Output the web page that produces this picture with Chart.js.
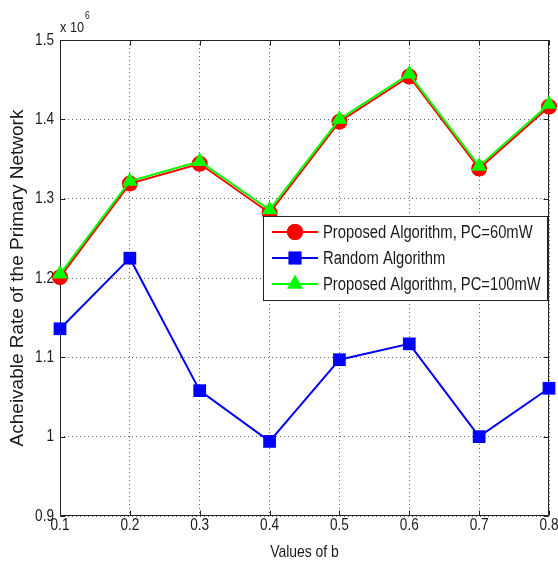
<!DOCTYPE html>
<html>
<head>
<meta charset="utf-8">
<script src="https://cdn.jsdelivr.net/npm/chart.js@4/dist/chart.umd.min.js"></script>
<style>
html,body{margin:0;padding:0;background:#fff;}
canvas{display:block;}
</style>
</head>
<body>
<canvas id="c" width="558" height="565"></canvas>
<script>
// ---- data ----
const bValues = [0.1, 0.2, 0.3, 0.4, 0.5, 0.6, 0.7, 0.8];
const proposed60 = [1.201, 1.319, 1.344, 1.282, 1.397, 1.454, 1.338, 1.416];
const randomAlg = [1.136, 1.225, 1.058, 0.994, 1.097, 1.117, 1.000, 1.061];
const proposed100 = [1.205, 1.322, 1.347, 1.286, 1.400, 1.457, 1.341, 1.419];
const xTickLabels = [0.1, 0.2, 0.3, 0.4, 0.5, 0.6, 0.7, 0.8];
const yTickLabels = [0.9, 1, 1.1, 1.2, 1.3, 1.4, 1.5];
const seriesLabels = ['Proposed Algorithm, PC=60mW', 'Random Algorithm', 'Proposed Algorithm, PC=100mW'];
const xTitle = 'Values of b';
const yTitle = 'Acheivable Rate of the Primary Network';
const exponentText = ['x 10', '6'];

const FONT = "'Liberation Sans', Arial, Helvetica, sans-serif";
const TXT = '#1a1a1a';

const pts = arr => bValues.map((x, i) => ({x, y: arr[i]}));

const datasets = [
  {label: seriesLabels[0], data: pts(proposed60), borderColor: '#ff0000', backgroundColor: '#ff0000',
   pointStyle: 'circle', pointRadius: 8, order: 2},
  {label: seriesLabels[1], data: pts(randomAlg), borderColor: '#0000ff', backgroundColor: '#0000ff',
   pointStyle: 'rect', pointRadius: 9, order: 1},
  {label: seriesLabels[2], data: pts(proposed100), borderColor: '#00ff00', backgroundColor: '#00ff00',
   pointStyle: 'triangle', pointRadius: 9, order: 0}
].map(d => Object.assign({borderWidth: 2, pointBorderWidth: 0, pointHoverRadius: d.pointRadius, clip: false, tension: 0}, d));

// draw horizontally condensed text (reference uses a narrow face)
function ctext(ctx, text, x, y, size, align, baseline, sx) {
  ctx.save();
  ctx.translate(x, y);
  ctx.scale(sx, 1);
  ctx.font = size + 'px ' + FONT;
  ctx.textAlign = align;
  ctx.textBaseline = baseline;
  ctx.fillText(text, 0, 0);
  ctx.restore();
}

const frame = {
  id: 'frame',
  beforeDatasetsDraw(chart) {
    const {ctx, chartArea: a, scales} = chart;
    ctx.save();
    ctx.strokeStyle = '#222';
    ctx.lineWidth = 1;
    ctx.setLineDash([]);
    ctx.beginPath();
    const L = Math.round(a.left) + 0.5, R = Math.round(a.right) - 0.5;
    const T = Math.round(a.top) + 0.5, B = Math.round(a.bottom) - 0.5;
    ctx.rect(L, T, R - L, B - T);
    const tl = 5;
    scales.x.ticks.forEach(t => {
      const px = Math.round(scales.x.getPixelForValue(t.value)) + 0.5;
      ctx.moveTo(px, B); ctx.lineTo(px, B - tl);
      ctx.moveTo(px, T); ctx.lineTo(px, T + tl);
    });
    scales.y.ticks.forEach(t => {
      const py = Math.round(scales.y.getPixelForValue(t.value)) + 0.5;
      ctx.moveTo(L, py); ctx.lineTo(L + tl, py);
      ctx.moveTo(R, py); ctx.lineTo(R - tl, py);
    });
    ctx.stroke();
    ctx.fillStyle = TXT;
    // tick labels
    scales.x.ticks.forEach(t => {
      ctext(ctx, String(t.value), scales.x.getPixelForValue(t.value), 525, 17, 'center', 'middle', 0.8);
    });
    scales.y.ticks.forEach(t => {
      ctext(ctx, String(t.value), 54, scales.y.getPixelForValue(t.value), 17, 'right', 'middle', 0.8);
    });
    // x title
    ctext(ctx, xTitle, (a.left + a.right) / 2, 552, 17, 'center', 'middle', 0.82);
    // exponent label
    ctext(ctx, exponentText[0], a.left, 32, 15, 'left', 'alphabetic', 0.85);
    ctx.font = '15px ' + FONT;
    const w = ctx.measureText(exponentText[0]).width * 0.85;
    ctext(ctx, exponentText[1], a.left + w + 1, 19, 10, 'left', 'alphabetic', 0.85);
    ctx.restore();
  },
  afterDraw(chart) {
    const {ctx} = chart;
    const box = {x: 263, y: 216, w: 285, h: 85};
    ctx.save();
    ctx.fillStyle = '#fff';
    ctx.fillRect(box.x, box.y, box.w, box.h);
    ctx.strokeStyle = '#222';
    ctx.lineWidth = 1;
    ctx.strokeRect(box.x + 0.5, box.y + 0.5, box.w - 1, box.h - 1);
    chart.data.datasets.forEach((d, i) => {
      const y = 232 + i * 26;
      ctx.strokeStyle = d.borderColor;
      ctx.lineWidth = 2;
      ctx.beginPath();
      ctx.moveTo(272, y); ctx.lineTo(318, y);
      ctx.stroke();
      ctx.fillStyle = d.backgroundColor;
      Chart.helpers.drawPoint(ctx, {pointStyle: d.pointStyle, radius: d.pointRadius, borderWidth: 0, rotation: 0}, 295, y);
      ctx.fill();
      ctx.fillStyle = TXT;
      ctext(ctx, d.label, 323, y + 1, 18, 'left', 'middle', 0.82);
    });
    ctx.restore();
  }
};

new Chart(document.getElementById('c'), {
  type: 'line',
  data: {datasets},
  plugins: [frame],
  options: {
    responsive: false,
    animation: false,
    devicePixelRatio: 1,
    layout: {padding: {top: 40, right: 8, left: 0, bottom: 0}},
    plugins: {legend: {display: false}, tooltip: {enabled: false}},
    scales: {
      x: {
        type: 'linear', min: 0.1, max: 0.8,
        afterBuildTicks: s => { s.ticks = xTickLabels.map(v => ({value: v})); },
        afterFit: s => { s.height = 49; },
        grid: {color: '#666', lineWidth: 1, drawTicks: false},
        border: {display: false, dash: [1, 3]},
        ticks: {display: false}
      },
      y: {
        type: 'linear', min: 0.9, max: 1.5,
        afterBuildTicks: s => { s.ticks = yTickLabels.map(v => ({value: v})); },
        afterFit: s => { s.width = 60; },
        grid: {color: '#666', lineWidth: 1, drawTicks: false},
        border: {display: false, dash: [1, 3]},
        ticks: {display: false},
        title: {display: true, text: yTitle, color: TXT, font: {family: FONT, size: 19}, padding: {top: 6, bottom: 0}}
      }
    }
  }
});
</script>
</body>
</html>
